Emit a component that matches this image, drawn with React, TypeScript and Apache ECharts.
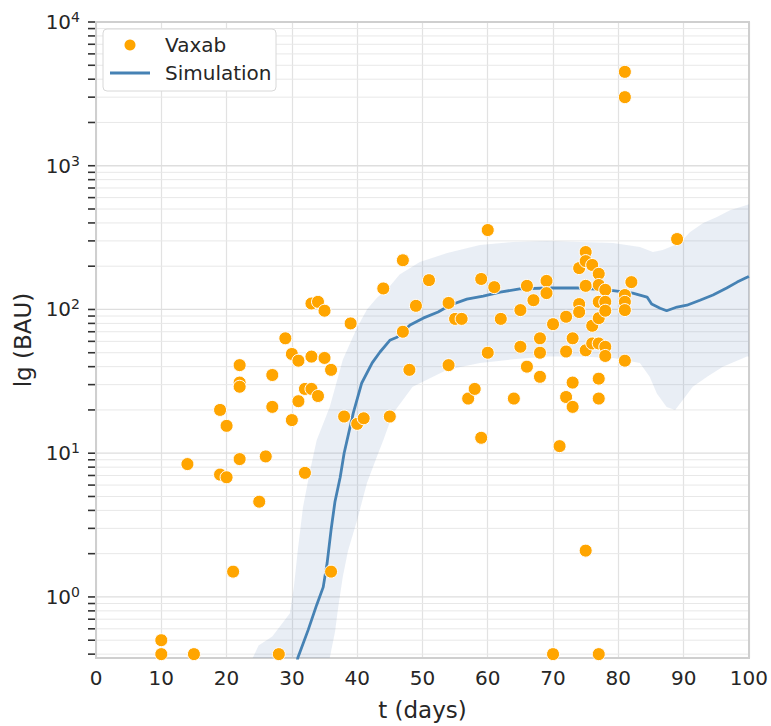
import React, { useEffect, useRef } from "react";
import * as echarts from "echarts";

// ---- Data ----
const vaxT = [10, 10, 14, 15, 19, 19, 20, 20, 21, 22, 22, 22, 22, 25, 26, 27, 27, 28, 29, 30, 30, 31, 31, 32, 32, 33, 33, 33, 34, 34, 35, 35, 36, 36, 38, 39, 40, 41, 44, 45, 47, 47, 48, 49, 51, 54, 54, 55, 56, 57, 58, 59, 59, 60, 60, 61, 62, 64, 65, 65, 66, 66, 67, 68, 68, 68, 69, 69, 70, 70, 71, 72, 72, 72, 73, 73, 73, 74, 74, 74, 75, 75, 75, 75, 75, 76, 76, 76, 77, 77, 77, 77, 77, 77, 77, 77, 78, 78, 78, 78, 78, 81, 81, 81, 81, 81, 81, 82, 89];
const vaxV = [0.5, 0.4, 8.4, 0.4, 20, 7.1, 6.8, 15.5, 1.5, 41, 31, 29, 9.1, 4.6, 9.5, 35, 21, 0.4, 63, 49, 17, 44, 23, 28, 7.3, 110, 47, 28, 113, 25, 98, 46, 38, 1.5, 18, 80, 16, 17.5, 140, 18, 220, 70, 38, 106, 160, 111, 41, 86, 86, 24, 28, 163, 12.8, 357, 50, 143, 86, 24, 99, 55, 146, 40, 116, 63, 50, 34, 158, 130, 79, 0.4, 11.2, 89, 51, 24.6, 63, 31, 21, 194, 109, 96, 251, 217, 146, 52, 2.1, 204, 77, 58, 177, 148, 113, 87, 58, 33, 24, 0.4, 137, 113, 98, 55, 47.5, 4500, 3000, 126, 113, 99, 44, 155, 309];

const simT = [30.6, 30.9, 32.5, 33.8, 34.8, 35.4, 36.0, 36.6, 37.4, 38.0, 39.4, 40.7, 42.3, 43.5, 45.0, 46.1, 48.1, 50.1, 52.4, 54.2, 56.8, 59.3, 61.9, 64.9, 69.1, 74.1, 78.3, 82.2, 84.4, 85.1, 86.4, 87.4, 89.0, 90.5, 92.5, 94.5, 96.6, 98.2, 99.8, 100];
const simV = [0.3, 0.376, 0.59, 0.88, 1.17, 1.72, 2.92, 4.6, 6.8, 10, 19, 30.8, 42.5, 50.6, 61, 64, 78, 87, 96, 107, 118, 124, 132, 139, 141, 141, 137, 130, 122, 109, 102, 98, 104, 107, 116, 126, 141, 155, 168, 170];

const bandUpperT = [23.5, 24.0, 24.9, 27.0, 29.7, 30.3, 30.9, 31.7, 32.8, 33.8, 35.8, 37.8, 40.0, 41.5, 43.0, 45.0, 46.5, 49.6, 53.8, 58.8, 63.9, 69.1, 74.1, 79.2, 83.3, 85.3, 86.8, 89.4, 91.0, 93.0, 95.1, 97.1, 99.7, 100];
const bandUpperV = [0.3, 0.376, 0.46, 0.53, 0.77, 1.17, 2.1, 4.2, 7.6, 12.3, 21, 44.6, 75, 100, 120, 145, 175, 214, 247, 281, 295, 300, 295, 290, 272, 251, 259, 290, 346, 400, 440, 490, 533, 540];
const bandLowerT = [24, 35.5, 35.8, 36.6, 37.1, 37.8, 38.6, 40.0, 41.5, 43.0, 44.0, 45.5, 48.5, 53.8, 58.8, 63.9, 69.1, 74.1, 79.2, 83.3, 84.8, 85.9, 87.4, 88.7, 89.9, 91.4, 93.6, 96.0, 99.7, 100];
const bandLowerV = [0.3, 0.3, 0.376, 0.57, 0.85, 1.38, 2.1, 3.43, 6.2, 9.4, 12.3, 19, 29, 38, 42.5, 45, 47, 47, 46, 42.5, 34, 26, 21, 20, 23.5, 29, 34, 40, 47, 47];

const xTicks = [0, 10, 20, 30, 40, 50, 60, 70, 80, 90, 100];
const yMajorTicks = [1, 10, 100, 1000, 10000];
const yMinorMultipliers = [2, 3, 4, 5, 6, 7, 8, 9];
const yMin = 0.376;
const yMax = 10000;

const FONT = "DejaVu Sans";
const TEXT = "#262626";

export default function App() {
  const ref = useRef<HTMLDivElement>(null);

  useEffect(() => {
    if (!ref.current) return;
    const chart = echarts.init(ref.current, undefined, { renderer: "svg" });

    const tickVals: { v: number; major: boolean }[] = [];
    const decades = [0.1, ...yMajorTicks];
    decades.forEach((d) => {
      if (d >= yMin && d <= yMax) tickVals.push({ v: d, major: true });
      if (d < yMax) {
        yMinorMultipliers.forEach((m) => {
          const v = m * d;
          if (v >= yMin && v <= yMax) tickVals.push({ v, major: false });
        });
      }
    });

    const scatterData = vaxT.map((t, i) => [t, vaxV[i]]);
    const lineData = simT.map((t, i) => [t, simV[i]]);

    const option: any = {
      animation: false,
      backgroundColor: "#ffffff",
      textStyle: { fontFamily: FONT },
      grid: { left: 96, right: 22, top: 22, bottom: 68, show: false },
      xAxis: {
        type: "value",
        min: 0,
        max: 100,
        interval: 10,
        name: "t (days)",
        nameLocation: "middle",
        nameGap: 40,
        nameTextStyle: { fontSize: 23, color: TEXT, fontFamily: FONT },
        axisLine: { show: false },
        axisTick: { show: false },
        axisLabel: {
          fontSize: 20,
          color: TEXT,
          fontFamily: FONT,
          margin: 10,
          formatter: (v: number) => (xTicks.includes(v) ? String(v) : ""),
        },
        splitLine: { show: true, lineStyle: { color: "#e2e2e2", width: 1.2 } },
      },
      yAxis: {
        type: "log",
        logBase: 10,
        min: yMin,
        max: yMax,
        name: "lg (BAU)",
        nameLocation: "middle",
        nameGap: 61,
        nameTextStyle: { fontSize: 23, color: TEXT, fontFamily: FONT },
        axisLine: { show: false },
        axisTick: { show: false },
        splitLine: { show: false },
        axisLabel: {
          margin: 16,
          color: TEXT,
          fontFamily: FONT,
          formatter: (v: number) => {
            const e = Math.log10(v);
            const r = Math.round(e);
            if (Math.abs(e - r) > 1e-6) return "";
            return "{b|10}{s|" + r + "}";
          },
          rich: {
            b: { fontSize: 20, color: TEXT, fontFamily: FONT, lineHeight: 24 },
            s: { fontSize: 14, color: TEXT, fontFamily: FONT, verticalAlign: "top", lineHeight: 14 },
          },
        },
      },
      graphic: [
        {
          type: "rect",
          z: 1,
          silent: true,
          shape: { x: 96, y: 22, width: 653, height: 636 },
          style: { fill: "none", stroke: "#cfcfcf", lineWidth: 2 },
        },
        {
          type: "rect",
          z: 100,
          shape: { x: 103, y: 29, width: 173, height: 62, r: 4 },
          style: { fill: "#ffffff", stroke: "#d8d8d8", lineWidth: 1 },
        },
        { type: "circle", z: 101, shape: { cx: 130, cy: 45, r: 5.5 }, style: { fill: "#FFA500" } },
        { type: "line", z: 101, shape: { x1: 110, y1: 73, x2: 150, y2: 73 }, style: { stroke: "#4682B4", lineWidth: 2.8 } },
        {
          type: "text",
          z: 101,
          x: 165,
          y: 45,
          style: { text: "Vaxab", fontSize: 20, fontFamily: FONT, fill: TEXT, verticalAlign: "middle" },
        },
        {
          type: "text",
          z: 101,
          x: 165,
          y: 73,
          style: { text: "Simulation", fontSize: 20, fontFamily: FONT, fill: TEXT, verticalAlign: "middle" },
        },
      ],
      series: [
        {
          type: "custom",
          name: "yticks",
          z: 0,
          silent: true,
          clip: false,
          data: tickVals.map((t) => [0, t.v, t.major ? 1 : 0]),
          renderItem: (params: any, api: any) => {
            const v = api.value(1);
            const major = api.value(2) === 1;
            const p0 = api.coord([0, v]);
            const p1 = api.coord([100, v]);
            return {
              type: "group",
              children: [
                {
                  type: "line",
                  shape: { x1: p0[0], y1: p0[1], x2: p1[0], y2: p1[1] },
                  style: { stroke: major ? "#dedede" : "#e8e8e8", lineWidth: major ? 1.3 : 1 },
                },
                {
                  type: "line",
                  shape: { x1: p0[0] - 8, y1: p0[1], x2: p0[0] - 1, y2: p0[1] },
                  style: { stroke: "#333333", lineWidth: 1.6 },
                },
              ],
            };
          },
        },
        {
          type: "custom",
          name: "band",
          z: 1,
          silent: true,
          clip: true,
          data: [[0, 1]],
          renderItem: (params: any, api: any) => {
            const pts: number[][] = [];
            bandUpperT.forEach((t, i) => pts.push(api.coord([t, bandUpperV[i]])));
            for (let i = bandLowerT.length - 1; i >= 0; i--) {
              pts.push(api.coord([bandLowerT[i], bandLowerV[i]]));
            }
            return {
              type: "polygon",
              shape: { points: pts },
              style: { fill: "rgba(76,114,176,0.12)", stroke: "none" },
            };
          },
        },
        {
          type: "line",
          name: "Simulation",
          z: 3,
          data: lineData,
          showSymbol: false,
          symbol: "none",
          clip: true,
          lineStyle: { color: "#4682B4", width: 2.8 },
        },
        {
          type: "scatter",
          name: "Vaxab",
          z: 4,
          data: scatterData,
          symbolSize: 13,
          itemStyle: { color: "#FFA500", borderColor: "#ffffff", borderWidth: 1, opacity: 1 },
        },
      ],
    };

    chart.setOption(option);
    return () => chart.dispose();
  }, []);

  return (
    <div
      ref={ref}
      style={{ position: "fixed", left: 0, top: 0, width: 771, height: 726 }}
    />
  );
}
